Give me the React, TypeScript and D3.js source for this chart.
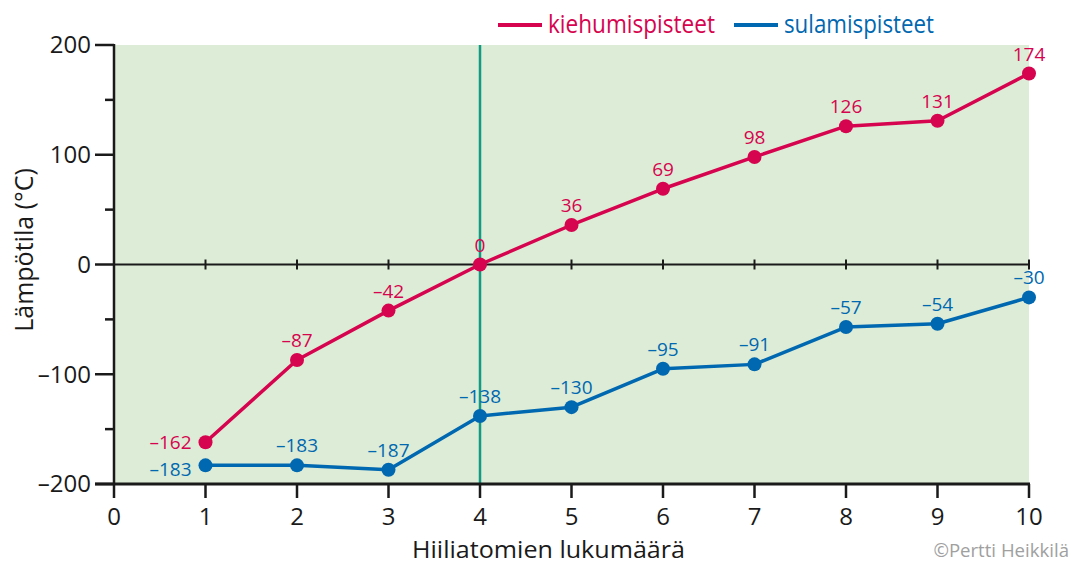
import React from "react";
import * as d3 from "d3";

// Hiiliatomien lukumäärä (alkaanit C1–C10)
const carbons = [1, 2, 3, 4, 5, 6, 7, 8, 9, 10];
const boiling = [-162, -87, -42, 0, 36, 69, 98, 126, 131, 174];
const melting = [-183, -183, -187, -138, -130, -95, -91, -57, -54, -30];
const xTicks = [0, 1, 2, 3, 4, 5, 6, 7, 8, 9, 10];
const yMajor = [-200, -100, 0, 100, 200];
const yMinor = [-150, -50, 50, 150];

const RED = "#d6044f";
const BLUE = "#0068b0";
const TEAL = "#139a84";
const INK = "#1a1a1a";
const FONT = "'Open Sans', 'Noto Sans', sans-serif";

const fmt = (v: number) => (v < 0 ? "\u2013" + Math.abs(v) : String(v));

export default function App() {
  const width = 1071;
  const height = 564;
  const x = d3.scaleLinear().domain([0, 10]).range([114, 1029]);
  const y = d3.scaleLinear().domain([-200, 200]).range([484, 45]);
  const line = d3
    .line<number>()
    .x((_, i) => x(carbons[i]))
    .y((d) => y(d));

  const series = [
    { name: "kiehumispisteet", values: boiling, color: RED, lx: 498, tw: 167, firstDy: 0 },
    { name: "sulamispisteet", values: melting, color: BLUE, lx: 734, tw: 150, firstDy: 4 },
  ];

  return (
    <svg
      width={width}
      height={height}
      style={{ position: "absolute", left: 0, top: 0, fontFamily: FONT }}
    >
      <rect x={x(0)} y={y(200)} width={x(10) - x(0)} height={y(-200) - y(200)} fill="#ddecd6" />

      {/* pystyviiva x = 4 */}
      <line x1={x(4)} x2={x(4)} y1={y(200)} y2={y(-200)} stroke={TEAL} strokeWidth={2.5} />

      {/* nollaviiva */}
      <line x1={x(0)} x2={x(10)} y1={y(0)} y2={y(0)} stroke={INK} strokeWidth={2} />
      {carbons.map((c) => (
        <line key={"z" + c} x1={x(c)} x2={x(c)} y1={y(0) - 5} y2={y(0) + 5} stroke={INK} strokeWidth={2} />
      ))}

      {/* y-akseli */}
      <line x1={x(0)} x2={x(0)} y1={y(200) - 1} y2={y(-200)} stroke={INK} strokeWidth={2.5} />
      {yMajor.map((v) => (
        <g key={"ym" + v}>
          <line x1={x(0) - 19} x2={x(0)} y1={y(v)} y2={y(v)} stroke={INK} strokeWidth={2.5} />
          <text x={x(0) - 23} y={y(v)} dy="0.35em" textAnchor="end" fontSize={24} fill={INK}>
            {fmt(v)}
          </text>
        </g>
      ))}
      {yMinor.map((v) => (
        <line key={"yn" + v} x1={x(0) - 9} x2={x(0)} y1={y(v)} y2={y(v)} stroke={INK} strokeWidth={2.5} />
      ))}

      {/* x-akseli */}
      <line x1={x(0) - 19} x2={x(10) + 1} y1={y(-200)} y2={y(-200)} stroke={INK} strokeWidth={3} />
      {xTicks.map((t) => (
        <g key={"xt" + t}>
          <line x1={x(t)} x2={x(t)} y1={y(-200)} y2={y(-200) + 14} stroke={INK} strokeWidth={2.5} />
          <text x={x(t)} y={y(-200) + 41} textAnchor="middle" fontSize={24} fill={INK}>
            {t}
          </text>
        </g>
      ))}

      {/* sarjat */}
      {series.map((s) => (
        <g key={s.name}>
          <path d={line(s.values) || ""} fill="none" stroke={s.color} strokeWidth={3.5} strokeLinejoin="round" />
          {s.values.map((v, i) => (
            <circle key={i} cx={x(carbons[i])} cy={y(v)} r={7} fill={s.color} />
          ))}
          {s.values.map((v, i) => {
            const first = i === 0;
            return (
              <text
                key={"l" + i}
                x={first ? x(carbons[i]) - 14 : x(carbons[i])}
                y={first ? y(v) + s.firstDy : y(v) - 13}
                dy={first ? "0.35em" : 0}
                textAnchor={first ? "end" : "middle"}
                fontSize={19}
                fill={s.color}
              >
                {fmt(v)}
              </text>
            );
          })}
        </g>
      ))}

      {/* selite */}
      {series.map((s) => (
        <g key={"lg" + s.name}>
          <line x1={s.lx} x2={s.lx + 44} y1={25} y2={25} stroke={s.color} strokeWidth={4} />
          <text
            x={s.lx + 50}
            y={33}
            fontSize={25}
            fill={s.color}
            textLength={s.tw}
            lengthAdjust="spacingAndGlyphs"
          >
            {s.name}
          </text>
        </g>
      ))}

      <text
        transform={`translate(33,250) rotate(-90)`}
        textAnchor="middle"
        fontSize={25}
        fill={INK}
      >
        Lämpötila (°C)
      </text>
      <text
        x={412}
        y={558}
        fontSize={24}
        fill={INK}
        textLength={273}
        lengthAdjust="spacingAndGlyphs"
      >
        Hiiliatomien lukumäärä
      </text>
      <text x={1069} y={557} textAnchor="end" fontSize={18.6} fill="#a0a0a0">
        ©Pertti Heikkilä
      </text>
    </svg>
  );
}
